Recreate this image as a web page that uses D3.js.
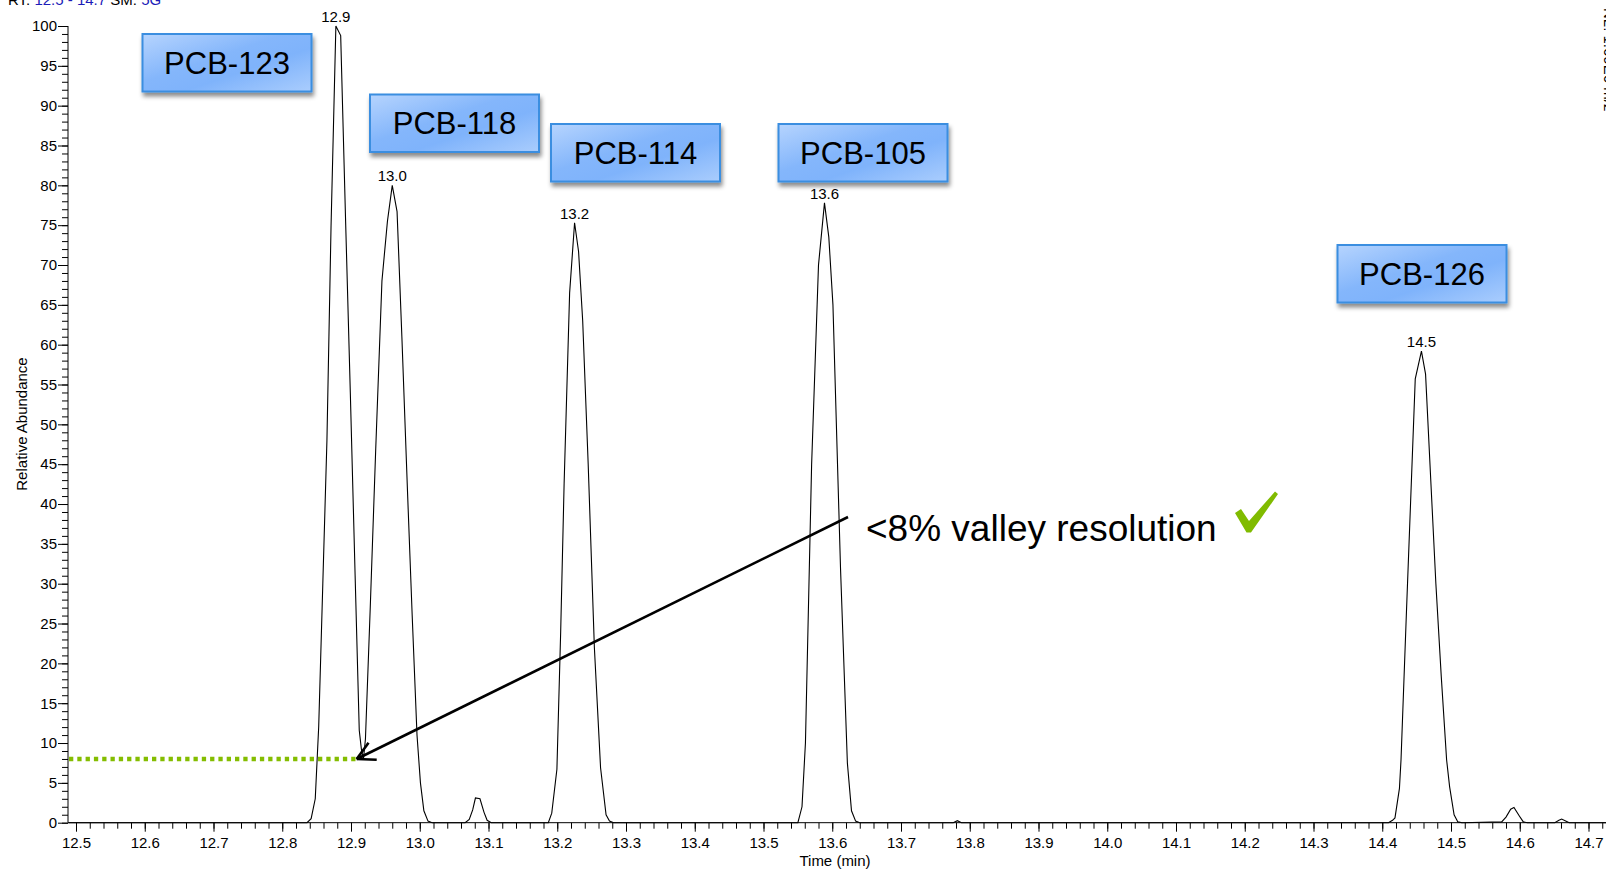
<!DOCTYPE html>
<html>
<head>
<meta charset="utf-8">
<script src="https://cdn.jsdelivr.net/npm/d3@7"></script>
<style>
  html, body { margin: 0; padding: 0; background: #ffffff; }
  svg { display: block; font-family: "Liberation Sans", Arial, Helvetica, sans-serif; }
</style>
</head>
<body>
<svg id="chart" width="1606" height="872"></svg>
<script>
// ---- Chromatogram trace: [retention time (min), relative abundance (%)] ----
const baselineStart = [[12.489, 0], [12.836, 0]];
const tracePCB123 = [[12.842, 0.5], [12.848, 3], [12.853, 12], [12.859, 30], [12.865, 48], [12.871, 75],
  [12.878, 100], [12.885, 98.8], [12.892, 76], [12.899, 54], [12.906, 31], [12.912, 11.6], [12.915, 9.3], [12.918, 7.9]];
const tracePCB118 = [[12.921, 10.5], [12.928, 27], [12.936, 47], [12.945, 68], [12.953, 75.5], [12.960, 80],
  [12.967, 76.7], [12.974, 61], [12.982, 42], [12.989, 26], [12.996, 11], [13.001, 5], [13.006, 1.5], [13.012, 0.2], [13.018, 0]];
const traceMinor1 = [[13.066, 0], [13.072, 0.4], [13.077, 1.6], [13.081, 3.1], [13.0876, 3.0], [13.0935, 1.3], [13.098, 0.3], [13.104, 0]];
const tracePCB114 = [[13.187, 0], [13.192, 1.2], [13.1995, 6.7], [13.205, 24], [13.210, 42.6], [13.218, 66.5],
  [13.2252, 75.3], [13.231, 71.7], [13.237, 63], [13.245, 45], [13.254, 22], [13.263, 6.9], [13.271, 1], [13.276, 0.2], [13.282, 0]];
const tracePCB105 = [[13.550, 0], [13.556, 2], [13.561, 10], [13.570, 45], [13.580, 70], [13.5887, 77.8],
  [13.595, 73.5], [13.601, 65], [13.612, 32], [13.622, 7.5], [13.628, 1.5], [13.634, 0.2], [13.640, 0]];
const traceMinor2 = [[13.776, 0], [13.782, 0.25], [13.788, 0]];
const tracePCB126 = [[14.409, 0], [14.415, 0.3], [14.4185, 0.6], [14.425, 4.3], [14.4273, 7.9], [14.435, 26],
  [14.442, 42], [14.448, 55.7], [14.457, 59.2], [14.463, 56.3], [14.470, 44], [14.478, 30], [14.4858, 18.4],
  [14.4936, 7.9], [14.498, 4.5], [14.5045, 1], [14.510, 0.1], [14.516, 0]];
const traceMinor3 = [[14.5737, 0.1], [14.580, 0.7], [14.5868, 1.7], [14.5916, 1.9], [14.5994, 0.85], [14.6052, 0.1], [14.611, 0]];
const traceMinor4 = [[14.651, 0], [14.657, 0.3], [14.661, 0.45], [14.666, 0.25], [14.672, 0]];
const baselineEnd = [[14.73, 0]];

// ---- Labelled peak apexes (retention time) and compound names ----
const apexRT = [12.878, 12.960, 13.2252, 13.5887, 14.457];
const compounds = ["PCB-123", "PCB-118", "PCB-114", "PCB-105", "PCB-126"];

// ---- Axis ticks ----
const xMajorTicks = d3.range(125, 148).map(v => v / 10);
const xMinorTicks = d3.range(1250, 1473, 2).map(v => v / 100);
const yMajorTicks = d3.range(0, 101, 5);
const yMinorTicks = d3.range(0, 101, 1);

// ---- Annotation values ----
const valleyLevel = 8;          // % valley between PCB-123 and PCB-118
const arrowTipRT = 12.9083;
const annotationText = "<8% valley resolution";

// ---- Layout (pixels) ----
const boxLayout = [
  { x: 142.5, y: 34 },
  { x: 370, y: 94.5 },
  { x: 551, y: 124 },
  { x: 778.5, y: 124 },
  { x: 1337.5, y: 245 }
];
const boxW = 169, boxH = 57.5;

const trace = [].concat(baselineStart, tracePCB123, tracePCB118, traceMinor1, tracePCB114,
  tracePCB105, traceMinor2, tracePCB126, traceMinor3, traceMinor4, baselineEnd);

const svg = d3.select("#chart");
const W = 1606, H = 872;
svg.append("rect").attr("width", W).attr("height", H).attr("fill", "#fff");

const x = d3.scaleLinear().domain([12.5, 14.7]).range([76, 1588.5]);
const y = d3.scaleLinear().domain([0, 100]).range([822.7, 26]);
const axisLeftX = 68;

const defs = svg.append("defs");
const grad = defs.append("linearGradient").attr("id", "boxFill")
  .attr("x1", "0").attr("y1", "0").attr("x2", "1").attr("y2", "1");
[["0", "#b6d4fe"], ["0.42", "#84b6fb"], ["0.62", "#7fb3fb"], ["1", "#aacdfd"]]
  .forEach(([o, c]) => grad.append("stop").attr("offset", o).attr("stop-color", c));
const shadow = defs.append("filter").attr("id", "boxShadow")
  .attr("x", "-10%").attr("y", "-10%").attr("width", "125%").attr("height", "140%");
shadow.append("feDropShadow").attr("dx", 1.5).attr("dy", 4).attr("stdDeviation", 2)
  .attr("flood-color", "#000").attr("flood-opacity", 0.45);

// ---- Header text (runs off the top edge) ----
const hdr = svg.append("text").attr("x", 8).attr("y", 4.5).attr("font-size", 15);
hdr.append("tspan").attr("fill", "#000").text("RT: ");
hdr.append("tspan").attr("fill", "#1c1cb8").text("12.5 - 14.7");
hdr.append("tspan").attr("fill", "#000").text("   SM: ");
hdr.append("tspan").attr("fill", "#1c1cb8").text("5G");

// Vertical caption at the right edge
svg.append("text")
  .attr("transform", "translate(1603.5,8) rotate(90)")
  .attr("font-size", 15).attr("fill", "#000")
  .text("NL: 1.69E6 m/z=");

// ---- X axis ----
const gx = svg.append("g").attr("transform", `translate(0,${y(0)})`);
gx.append("g").call(d3.axisBottom(x).tickValues(xMinorTicks).tickSize(6).tickFormat(""))
  .call(g => g.select(".domain").remove());
gx.append("g").call(d3.axisBottom(x).tickValues(xMajorTicks).tickSize(9).tickPadding(6).tickFormat(d3.format(".1f")))
  .call(g => g.select(".domain").remove())
  .call(g => g.selectAll("text").attr("font-size", 15).attr("font-family", "Liberation Sans, Arial, sans-serif").attr("fill", "#000"));
gx.append("line").attr("x1", axisLeftX).attr("x2", W).attr("y1", 0).attr("y2", 0)
  .attr("stroke", "#000").attr("stroke-width", 1);
gx.selectAll(".tick line").attr("stroke", "#000");

// ---- Y axis ----
const gy = svg.append("g").attr("transform", `translate(${axisLeftX},0)`);
gy.append("g").call(d3.axisLeft(y).tickValues(yMinorTicks).tickSize(6).tickFormat(""))
  .call(g => g.select(".domain").remove());
gy.append("g").call(d3.axisLeft(y).tickValues(yMajorTicks).tickSize(10).tickPadding(1).tickFormat(d3.format("d")))
  .call(g => g.select(".domain").remove())
  .call(g => g.selectAll("text").attr("font-size", 15).attr("font-family", "Liberation Sans, Arial, sans-serif").attr("fill", "#000"));
gy.append("line").attr("x1", 0).attr("x2", 0).attr("y1", y(0)).attr("y2", y(100))
  .attr("stroke", "#000").attr("stroke-width", 1);
gy.selectAll(".tick line").attr("stroke", "#000");

// Axis titles
svg.append("text").attr("x", 835).attr("y", 866).attr("text-anchor", "middle")
  .attr("font-size", 15).text("Time (min)");
svg.append("text").attr("transform", "translate(27,424) rotate(-90)")
  .attr("text-anchor", "middle").attr("font-size", 15).text("Relative Abundance");

// ---- Trace ----
const line = d3.line().x(d => x(d[0])).y(d => y(d[1]));
svg.append("path").datum(trace).attr("d", line)
  .attr("fill", "none").attr("stroke", "#000").attr("stroke-width", 1.1)
  .attr("stroke-linejoin", "miter");

// Apex labels
const apexLookup = new Map(trace.map(d => [d[0], d[1]]));
svg.selectAll(".apex").data(apexRT).join("text")
  .attr("class", "apex")
  .attr("x", d => x(d)).attr("y", d => y(apexLookup.get(d)) - 4)
  .attr("text-anchor", "middle").attr("font-size", 15)
  .text(d => d3.format(".1f")(d));

// ---- Valley level marker ----
svg.append("line")
  .attr("x1", axisLeftX + 1).attr("x2", x(arrowTipRT))
  .attr("y1", y(valleyLevel)).attr("y2", y(valleyLevel))
  .attr("stroke", "#84bd00").attr("stroke-width", 4.5)
  .attr("stroke-dasharray", "4.3,4");

// Arrow from annotation to valley
const tail = [848, 517];
const tip = [x(arrowTipRT), y(valleyLevel)];
svg.append("line").attr("x1", tail[0]).attr("y1", tail[1]).attr("x2", tip[0]).attr("y2", tip[1])
  .attr("stroke", "#000").attr("stroke-width", 2.6);
const ang = Math.atan2(tail[1] - tip[1], tail[0] - tip[0]);
[-0.48, 0.5].forEach(da => {
  svg.append("line").attr("x1", tip[0]).attr("y1", tip[1])
    .attr("x2", tip[0] + 20 * Math.cos(ang + da)).attr("y2", tip[1] + 20 * Math.sin(ang + da))
    .attr("stroke", "#000").attr("stroke-width", 2.6);
});

svg.append("text").attr("x", 866).attr("y", 541).attr("font-size", 37).attr("fill", "#000")
  .text(annotationText);

// Green check mark
svg.append("path")
  .attr("d", "M1235,513 L1241,509 L1249,521 L1275,491.5 L1278,494 L1251,532.5 L1246.5,532.5 Z")
  .attr("fill", "#80bb00");

// ---- Compound label boxes ----
const boxes = svg.selectAll(".cbox").data(compounds).join("g")
  .attr("class", "cbox")
  .attr("transform", (d, i) => `translate(${boxLayout[i].x},${boxLayout[i].y})`);
boxes.append("rect").attr("width", boxW).attr("height", boxH)
  .attr("fill", "url(#boxFill)").attr("stroke", "#3a8ee0").attr("stroke-width", 2)
  .attr("filter", "url(#boxShadow)");
boxes.append("text").attr("x", boxW / 2).attr("y", boxH / 2 + 11)
  .attr("text-anchor", "middle").attr("font-size", 31).attr("fill", "#000")
  .text(d => d);
</script>
</body>
</html>
